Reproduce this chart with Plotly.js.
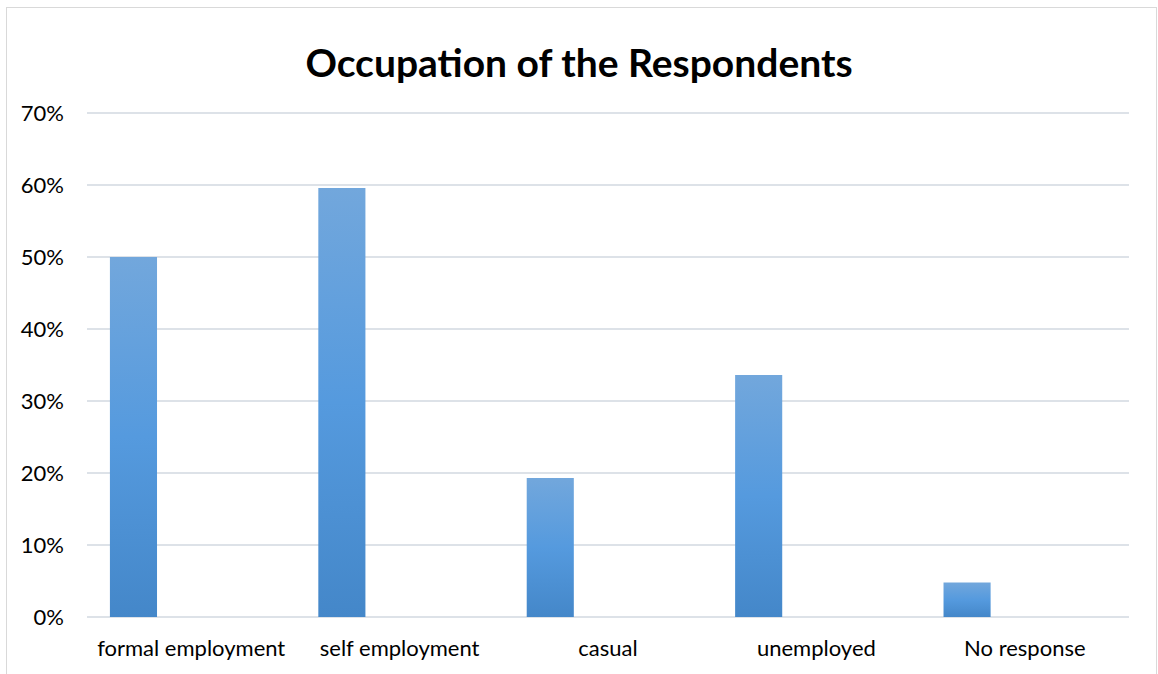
<!DOCTYPE html>
<html>
<head>
<meta charset="utf-8">
<script src="https://cdn.plot.ly/plotly-3.0.1.min.js"></script>
<style>
  html, body { margin: 0; padding: 0; background: #ffffff; }
  #chart { width: 1158px; height: 674px; position: relative; }
  #frame { position: absolute; left: 6px; top: 7px; width: 1151px; height: 680px;
           border: 1px solid #d9d9d9; pointer-events: none; box-sizing: border-box; }
</style>
</head>
<body>
<div id="chart"></div>
<div id="frame"></div>
<script>
const categories = ["formal employment", "self employment", "casual", "unemployed", "No response"];
const percentValues = [50.0, 59.6, 19.3, 33.6, 4.8];
const yTickValues = [0, 10, 20, 30, 40, 50, 60, 70];
const yTickLabels = ["0%", "10%", "20%", "30%", "40%", "50%", "60%", "70%"];
const chartTitle = "Occupation of the Respondents";

const fontFamily = "Lato, 'Open Sans', 'Noto Sans', sans-serif";

const trace = {
  type: "bar",
  x: categories,
  y: percentValues,
  width: 0.226,
  offset: -0.39,
  marker: { color: "#5b9bd5", line: { width: 0 } },
  hoverinfo: "x+y"
};

const layout = {
  width: 1158,
  height: 674,
  paper_bgcolor: "#ffffff",
  plot_bgcolor: "#ffffff",
  margin: { l: 87, r: 29, t: 112, b: 57 },
  showlegend: false,
  title: {
    text: "<b>" + chartTitle + "</b>",
    font: { family: fontFamily, size: 39, color: "#000000" },
    x: 0.5, xanchor: "center",
    y: 0.906, yanchor: "middle"
  },
  xaxis: {
    type: "category",
    showgrid: false,
    showline: false,
    zeroline: false,
    ticks: "",
    ticklabelstandoff: 16,
    tickfont: { family: fontFamily, size: 22, color: "#000000" },
    fixedrange: true
  },
  yaxis: {
    range: [0, 70.15],
    tickvals: yTickValues,
    ticktext: yTickLabels,
    showgrid: true,
    gridcolor: "#dde2e8",
    gridwidth: 2,
    zeroline: true,
    zerolinecolor: "#dde2e8",
    zerolinewidth: 2,
    showline: false,
    ticks: "",
    ticklabelstandoff: 22,
    tickfont: { family: fontFamily, size: 22, color: "#000000" },
    fixedrange: true
  }
};

Plotly.newPlot("chart", [trace], layout, { displayModeBar: false, staticPlot: true }).then(function (gd) {
  const svg = gd.querySelector("svg.main-svg");
  const ns = "http://www.w3.org/2000/svg";
  let defs = svg.querySelector("defs");
  if (!defs) { defs = document.createElementNS(ns, "defs"); svg.insertBefore(defs, svg.firstChild); }
  const grad = document.createElementNS(ns, "linearGradient");
  grad.setAttribute("id", "barGrad");
  grad.setAttribute("x1", "0"); grad.setAttribute("y1", "0");
  grad.setAttribute("x2", "0"); grad.setAttribute("y2", "1");
  const stops = [["0", "#72a7dc"], ["0.5", "#559ade"], ["1", "#4487c9"]];
  stops.forEach(function (s) {
    const st = document.createElementNS(ns, "stop");
    st.setAttribute("offset", s[0]);
    st.setAttribute("stop-color", s[1]);
    grad.appendChild(st);
  });
  defs.appendChild(grad);
  gd.querySelectorAll(".barlayer .point path").forEach(function (p) {
    p.style.fill = "url(#barGrad)";
  });
});
</script>
</body>
</html>
